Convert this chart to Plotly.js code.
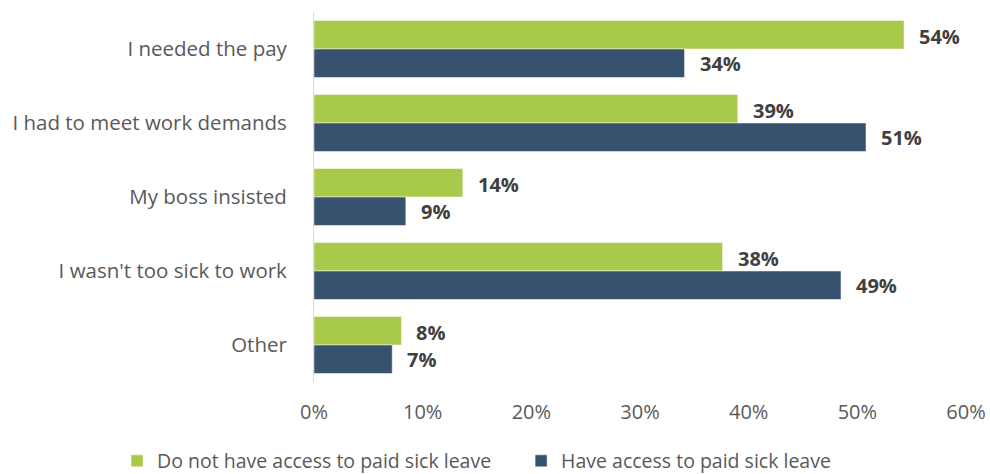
<!DOCTYPE html>
<html>
<head>
<meta charset="utf-8">
<script src="https://cdn.plot.ly/plotly-3.0.1.min.js"></script>
<style>html,body{margin:0;padding:0;background:#fff;}#chart{width:990px;height:474px;}</style>
</head>
<body>
<div id="chart"></div>
<script>
const categories = ["I needed the pay", "I had to meet work demands", "My boss insisted", "I wasn't too sick to work", "Other"];
const seriesNames = ["Do not have access to paid sick leave", "Have access to paid sick leave"];
const noAccess = [0.543, 0.390, 0.137, 0.376, 0.0805];
const hasAccess = [0.341, 0.508, 0.0845, 0.485, 0.072];
const noAccessLabels = ["54%", "39%", "14%", "38%", "8%"];
const hasAccessLabels = ["34%", "51%", "9%", "49%", "7%"];
const tickVals = [0, 0.1, 0.2, 0.3, 0.4, 0.5, 0.6];
const tickText = ["0%", "10%", "20%", "30%", "40%", "50%", "60%"];
const colors = ["#a9c94b", "#36526f"];

const font = "'Open Sans', 'Noto Sans', sans-serif";
const traces = [noAccess, hasAccess].map((vals, i) => ({
  type: "bar", orientation: "h", name: seriesNames[i],
  y: categories, x: vals,
  marker: {color: colors[i], line: {color: "#ffffff", width: 0.5}},
  hoverinfo: "none"
}));

const annotations = [];
[[noAccess, noAccessLabels], [hasAccess, hasAccessLabels]].forEach(([vals, labels], i) => {
  vals.forEach((v, j) => {
    annotations.push({
      x: v, y: categories[j], xref: "x", yref: "y",
      text: labels[j], showarrow: false,
      xanchor: "left", yanchor: "middle",
      xshift: 13, yshift: i === 0 ? 13 : -14,
      font: {family: font, size: 20, color: "#404040", weight: "bold"}
    });
  });
});

const layout = {
  width: 990, height: 474,
  margin: {l: 314, r: 24, t: 12, b: 92, autoexpand: false},
  paper_bgcolor: "#fff", plot_bgcolor: "#fff",
  barmode: "group", bargap: 0.23, bargroupgap: 0,
  font: {family: font, color: "#595959", size: 20},
  xaxis: {range: [0, 0.6], tickvals: tickVals, ticktext: tickText, showgrid: false,
          zeroline: false, showline: false, ticks: "", ticklabelstandoff: 16,
          tickfont: {size: 20, color: "#595959"}, fixedrange: true},
  yaxis: {autorange: "reversed", showgrid: false, zeroline: false, showline: true,
          linecolor: "#d9d9d9", linewidth: 1, ticks: "", ticklabelstandoff: 22,
          tickfont: {size: 20.5, color: "#595959"}, fixedrange: true},
  showlegend: true,
  legend: {orientation: "h", xref: "paper", yref: "paper", x: -0.302, y: -0.214,
           xanchor: "left", yanchor: "middle", font: {size: 19.5, color: "#595959"},
           itemwidth: 30, tracegroupgap: 0, entrywidth: 359, entrywidthmode: "pixels"},
  annotations: annotations
};

Plotly.newPlot("chart", traces, layout, {displayModeBar: false, staticPlot: true});
</script>
</body>
</html>
